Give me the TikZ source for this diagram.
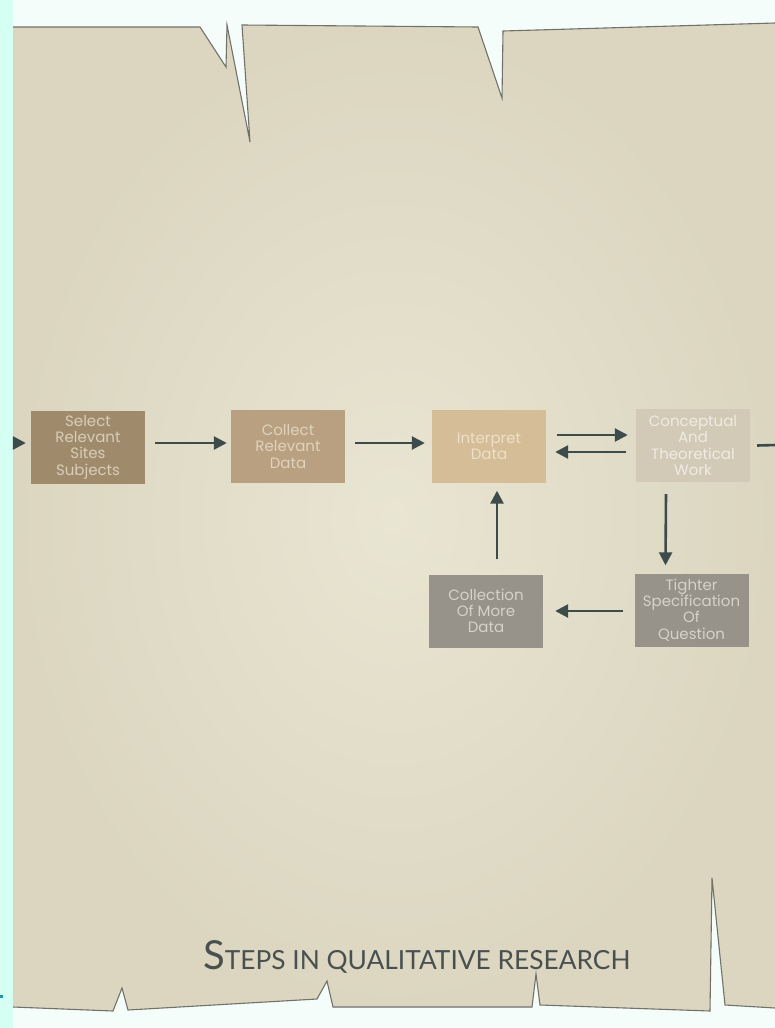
\documentclass[tikz,border=0pt]{standalone}
\usepackage{fontspec}
\usetikzlibrary{arrows.meta}
\newfontfamily\boxfont{Poppins}
\newfontfamily\titlefont{Lato}
\definecolor{bgtop}{HTML}{F4FDFA}
\definecolor{bgleft}{HTML}{D6FFF4}
\definecolor{paperout}{HTML}{DCD6C0}
\definecolor{paperin}{HTML}{E8E5D2}
\definecolor{edge}{HTML}{72726B}
\definecolor{arrowc}{HTML}{3E4B4B}
\definecolor{fA}{HTML}{A08A6C}\definecolor{tA}{HTML}{D9CDB8}
\definecolor{fB}{HTML}{B8A080}\definecolor{tB}{HTML}{E0D3BD}
\definecolor{fC}{HTML}{D5BD98}\definecolor{tC}{HTML}{EEE0C8}
\definecolor{fD}{HTML}{D2C9B7}\definecolor{tD}{HTML}{F0EBE2}
\definecolor{fE}{HTML}{97938A}\definecolor{tE}{HTML}{D6D2C8}
\definecolor{titlec}{HTML}{485050}
\definecolor{dotc}{HTML}{1A9AA0}
\tikzset{
  stepbox/.style={rectangle, minimum width=114pt, minimum height=73pt, inner sep=0pt,
    align=center, font=\boxfont\fontsize{15}{16.3}\selectfont},
  arr/.style={draw=arrowc, line width=2.6pt, -{Triangle[length=13pt,width=13pt]}},
}
\begin{document}
\begin{tikzpicture}[x=1pt,y=-1pt]
\useasboundingbox (0,0) rectangle (775,1028);
% background
\fill[bgtop] (0,0) rectangle (775,1028);
\fill[bgleft] (0,0) rectangle (13,1028);
\fill[dotc] (0,995) rectangle (3,998);
% paper
\shade[inner color=paperin, outer color=paperout]
  (13,27) -- (200,27) -- (226,67) -- (227,25) -- (250,142) -- (242,25)
  -- (478,27) -- (502,98) -- (503,31) -- (775,23) -- (775,1008)
  -- (725,1005) -- (712,878) -- (710,1011) -- (540,1005) -- (536,974)
  -- (532,1007) -- (333,1007) -- (327,981) -- (317,999) -- (128,1010)
  -- (122,988) -- (113,1011) -- (13,1007) -- cycle;
\draw[edge, line width=1.1pt, line join=miter]
  (13,27) -- (200,27) -- (226,67) -- (227,25) -- (250,142) -- (242,25)
  -- (478,27) -- (502,98) -- (503,31) -- (775,23);
\draw[edge, line width=1.1pt]
  (775,1008) -- (725,1005) -- (712,878) -- (710,1011) -- (540,1005) -- (536,974)
  -- (532,1007) -- (333,1007) -- (327,981) -- (317,999) -- (128,1010)
  -- (122,988) -- (113,1011) -- (13,1007);
% boxes
\node[stepbox, fill=fA, text=tA] (b1) at (88,447) {Select\\Relevant\\Sites\\Subjects};
\node[stepbox, fill=fB, text=tB] (b2) at (288,446.5) {Collect\\Relevant\\Data};
\node[stepbox, fill=fC, text=tC] (b3) at (489,446) {Interpret\\Data};
\node[stepbox, fill=fD, text=tD] (b4) at (693,445.5) {Conceptual\\And\\Theoretical\\Work};
\node[stepbox, fill=fE, text=tE] (b5) at (691.5,610) {Tighter\\Specification\\Of\\Question};
\node[stepbox, fill=fE, text=tE] (b6) at (486,611) {Collection\\Of More\\Data};
% connectors
\coordinate (lin) at (13,443);
\coordinate (rout) at (776,445);
\draw[arr] (lin) -- ([xshift=-5pt,yshift=4pt]b1.west);
\draw[arr] ([xshift=10pt,yshift=4pt]b1.east) -- ([xshift=-4pt,yshift=3.5pt]b2.west);
\draw[arr] ([xshift=10pt,yshift=3.5pt]b2.east) -- ([xshift=-7pt,yshift=3pt]b3.west);
\draw[arr] ([xshift=11pt,yshift=11pt]b3.east) -- ([xshift=-8pt,yshift=10.5pt]b4.west);
\draw[arr] ([xshift=-10pt,yshift=-6.5pt]b4.west) -- ([xshift=9pt,yshift=-6pt]b3.east);
\draw[draw=arrowc, line width=2.6pt] ([xshift=7pt]b4.east) -- (rout);
\draw[arr] ([xshift=-27pt,yshift=-12pt]b4.south) -- ([xshift=-26pt,yshift=8pt]b5.north);
\draw[arr] ([xshift=-11pt,yshift=-1pt]b5.west) -- ([xshift=12pt]b6.east);
\draw[arr] ([xshift=11pt,yshift=15pt]b6.north) -- ([xshift=8pt,yshift=-8pt]b3.south);
% title
\node[anchor=base west, inner sep=0pt, text=titlec, font=\titlefont] (title) at (203,969)
  {{\fontsize{40}{40}\selectfont S}{\fontsize{26.3}{27}\selectfont TEPS IN QUALITATIVE RESEARCH}};
\end{tikzpicture}
\end{document}
